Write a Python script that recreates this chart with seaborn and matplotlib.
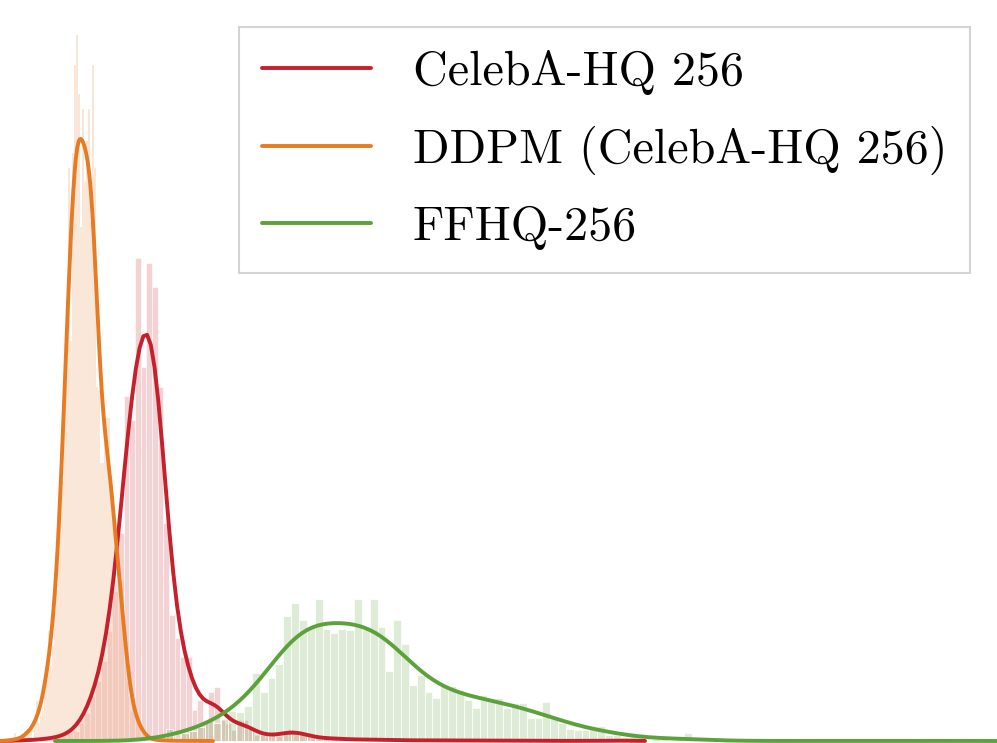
import numpy as np
import matplotlib
matplotlib.use("Agg")
import matplotlib.pyplot as plt
import seaborn as sns

labels = ["CelebA-HQ 256", "DDPM (CelebA-HQ 256)", "FFHQ-256"]
colors = ["#c71f2b", "#e87a22", "#5ba23b"]

# histogram bins: first edge, bin width, bar heights
celeba_start, celeba_width = 16.35, 5.65
celeba_heights = [1, 0, 2, 0, 2, 3, 2, 4, 5, 8, 10, 18, 28, 45, 60, 80, 110,
                  150, 208, 345, 321, 483, 374, 478, 454, 354, 218, 126, 103,
                  84, 84, 31, 41, 21, 49, 54, 21, 18, 11, 21, 21, 13, 6, 6, 5,
                  6, 5, 8, 12, 9, 9, 5, 4, 3, 3, 2, 3, 2, 2, 1, 2, 1, 2, 1, 1,
                  2, 1, 0, 1, 1, 0, 1, 1, 0, 1, 0, 1, 1, 0, 1, 0, 0, 1, 0, 1,
                  0, 0, 1, 0, 0, 1, 0, 0, 0, 1, 0, 0, 0, 0, 0, 1, 0, 0, 0, 0,
                  1, 0, 0, 1]

ddpm_start, ddpm_width = 14.0, 2.0
ddpm_heights = [8, 0, 0, 0, 0, 10, 12, 8, 12, 0, 20, 40, 18, 25, 30, 55, 70,
                110, 75, 95, 130, 150, 200, 240, 260, 366, 430, 573, 400, 588,
                676, 706, 647, 514, 632, 560, 600, 632, 520, 676, 573, 354,
                351, 278, 278, 300, 323, 323, 249, 249, 200, 161, 161, 150,
                161, 90, 60, 45, 30, 35, 25, 20, 15, 12, 8, 5, 3, 0, 4, 0, 0,
                2, 0, 2, 0, 0, 1, 0, 0, 1, 0, 0, 0, 0, 0, 1]

ffhq_start, ffhq_width = 165.55, 7.85
ffhq_heights = [12, 3, 8, 10, 14, 20, 18, 22, 30, 29, 35, 68, 49, 63, 77, 125,
                138, 121, 114, 142, 112, 108, 112, 111, 142, 112, 142, 114, 70,
                121, 97, 56, 66, 49, 43, 55, 55, 51, 41, 33, 46, 43, 43, 33,
                38, 38, 23, 23, 39, 24, 18, 12, 11, 11, 15, 15, 6, 6, 4, 6, 4,
                1, 2, 2, 1, 2, 8, 1, 0, 0, 0, 0, 0, 1, 0, 0, 0, 0, 0, 0, 0, 0,
                0, 0, 0, 1, 0, 0, 0, 0, 0, 0, 0, 0, 0, 0, 0, 0, 1]

bw_adjust = [0.41, 0.58, 0.6]
kde_clip = [(-100, 645), (-100, 213), (55, 1100)]

sns.set_theme(style="white")

fig = plt.figure(figsize=(9.97, 7.43), dpi=100)
ax = fig.add_axes([0, 0, 1, 1])
ax.set_xlim(0, 997)
ax.set_ylim(-2, 741)

series = [(celeba_start, celeba_width, celeba_heights),
          (ddpm_start, ddpm_width, ddpm_heights),
          (ffhq_start, ffhq_width, ffhq_heights)]

for (start, width, heights), c, adj, clip in zip(series, colors, bw_adjust, kde_clip):
    heights = np.asarray(heights, dtype=float)
    edges = start + width * np.arange(len(heights) + 1)
    centers = edges[:-1] + width / 2
    sns.histplot(x=centers, weights=heights, bins=edges.tolist(), stat="count",
                 kde=True, color=c, alpha=0.2, edgecolor="white",
                 kde_kws={"bw_adjust": adj, "cut": 5, "clip": clip},
                 line_kws={"lw": 2.8}, ax=ax)

for line, lab in zip(ax.lines, labels):
    line.set_label(lab)

ax.set_xlim(0, 997)
ax.set_ylim(-2, 741)
ax.set_axis_off()

leg = ax.legend(handles=ax.lines[:3], loc="upper right",
                bbox_to_anchor=(0.973, 0.964), borderaxespad=0,
                prop={"family": "cmr10", "size": 34.6}, fancybox=False,
                handlelength=2.28, handletextpad=0.86, labelspacing=0.64,
                borderpad=0.48, framealpha=1, labelcolor="black")
leg.get_frame().set_edgecolor("#d4d4d4")
leg.get_frame().set_linewidth(1.5)

fig.savefig("out.png", dpi=100, facecolor="white")
